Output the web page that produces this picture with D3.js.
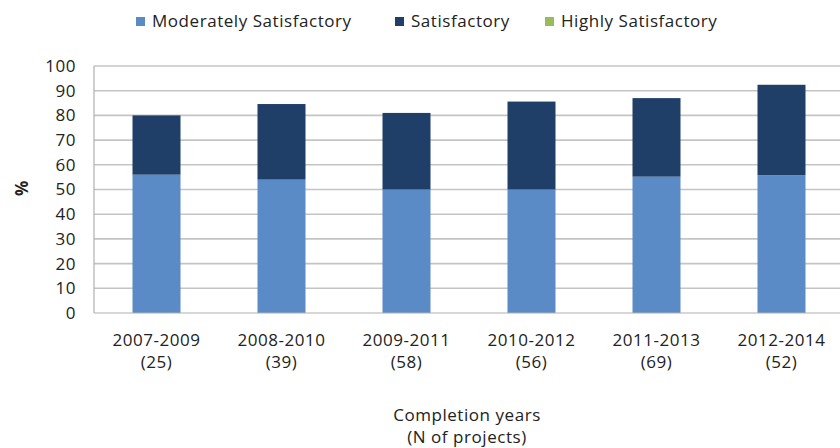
<!DOCTYPE html>
<html>
<head>
<meta charset="utf-8">
<script src="https://cdn.jsdelivr.net/npm/d3@7"></script>
<style>
  body { margin: 0; background: #fff; }
  text { font-family: "Open Sans", Lato, sans-serif; fill: #222; letter-spacing: 0.55px; }
</style>
</head>
<body>
<svg id="chart" width="840" height="448"></svg>
<script>
// data
var periods = ["2007-2009", "2008-2010", "2009-2011", "2010-2012", "2011-2013", "2012-2014"];
var nProjects = [25, 39, 58, 56, 69, 52];
var moderately = [56.0, 54.0, 50.0, 50.0, 55.2, 55.8];
var satisfactory = [24.0, 30.6, 31.0, 35.6, 31.8, 36.6];
var highly = [0, 0, 0, 0, 0, 0];
var seriesNames = ["Moderately Satisfactory", "Satisfactory", "Highly Satisfactory"];
var seriesColors = ["#5b8bc6", "#1f3f69", "#9bbb59"];
var yTicks = [0, 10, 20, 30, 40, 50, 60, 70, 80, 90, 100];

var svg = d3.select("#chart");
var plotLeft = 94, plotRight = 844, plotTop = 66, plotBottom = 313;
var fontSize = "17px";

var x = d3.scaleBand().domain(periods).range([plotLeft, plotRight]).paddingInner(0.616).paddingOuter(0.308);
var y = d3.scaleLinear().domain([0, 100]).range([plotBottom, plotTop]);

// gridlines
svg.append("g").selectAll("line").data(yTicks.slice(1)).enter().append("line")
    .attr("x1", plotLeft).attr("x2", 840)
    .attr("y1", d => y(d)).attr("y2", d => y(d))
    .attr("stroke", "#c4c4c4").attr("stroke-width", 1.6);

// stacked bars
var rows = periods.map((p, i) => ({ period: p, m: moderately[i], s: satisfactory[i], h: highly[i] }));
var stack = d3.stack().keys(["m", "s", "h"])(rows);
svg.append("g").selectAll("g").data(stack).enter().append("g")
    .attr("fill", (d, i) => seriesColors[i])
    .selectAll("rect").data(d => d).enter().append("rect")
    .attr("x", d => x(d.data.period))
    .attr("width", x.bandwidth())
    .attr("y", d => y(d[1]))
    .attr("height", d => y(d[0]) - y(d[1]));

// axis lines
svg.append("line").attr("x1", plotLeft).attr("x2", plotLeft).attr("y1", plotTop).attr("y2", plotBottom)
    .attr("stroke", "#b0b0b0").attr("stroke-width", 1.2);
svg.append("line").attr("x1", plotLeft).attr("x2", 840).attr("y1", plotBottom).attr("y2", plotBottom)
    .attr("stroke", "#b0b0b0").attr("stroke-width", 1.2);

// y axis
var yAxis = svg.append("g").attr("transform", "translate(" + plotLeft + ",0)")
    .call(d3.axisLeft(y).tickValues(yTicks).tickSize(0).tickPadding(18));
yAxis.select(".domain").remove();
yAxis.selectAll("text").style("font-size", fontSize).style("font-family", "'Open Sans', Lato, sans-serif").attr("fill", "#222");

svg.append("text")
    .attr("transform", "translate(28,188) rotate(-90)")
    .attr("text-anchor", "middle")
    .style("font-size", fontSize).style("font-weight", "bold")
    .text("%");

// x labels
var xl = svg.append("g").selectAll("text").data(periods).enter().append("text")
    .attr("text-anchor", "middle")
    .style("font-size", fontSize);
xl.append("tspan").attr("x", d => x(d) + x.bandwidth() / 2).attr("y", 346).text(d => d);
xl.append("tspan").attr("x", d => x(d) + x.bandwidth() / 2).attr("y", 368).text((d, i) => "(" + nProjects[i] + ")");

svg.append("text").attr("x", 467).attr("y", 421).attr("text-anchor", "middle")
    .style("font-size", fontSize).text("Completion years");
svg.append("text").attr("x", 467).attr("y", 443).attr("text-anchor", "middle")
    .style("font-size", fontSize).text("(N of projects)");

// legend
var legX = [136, 395, 545];
var leg = svg.append("g").selectAll("g").data(seriesNames).enter().append("g")
    .attr("transform", (d, i) => "translate(" + legX[i] + ",22)");
leg.append("rect").attr("x", 0).attr("y", -5).attr("width", 9).attr("height", 9)
    .attr("fill", (d, i) => seriesColors[i]);
leg.append("text").attr("x", 16).attr("y", 5).style("font-size", fontSize).text(d => d);
</script>
</body>
</html>
